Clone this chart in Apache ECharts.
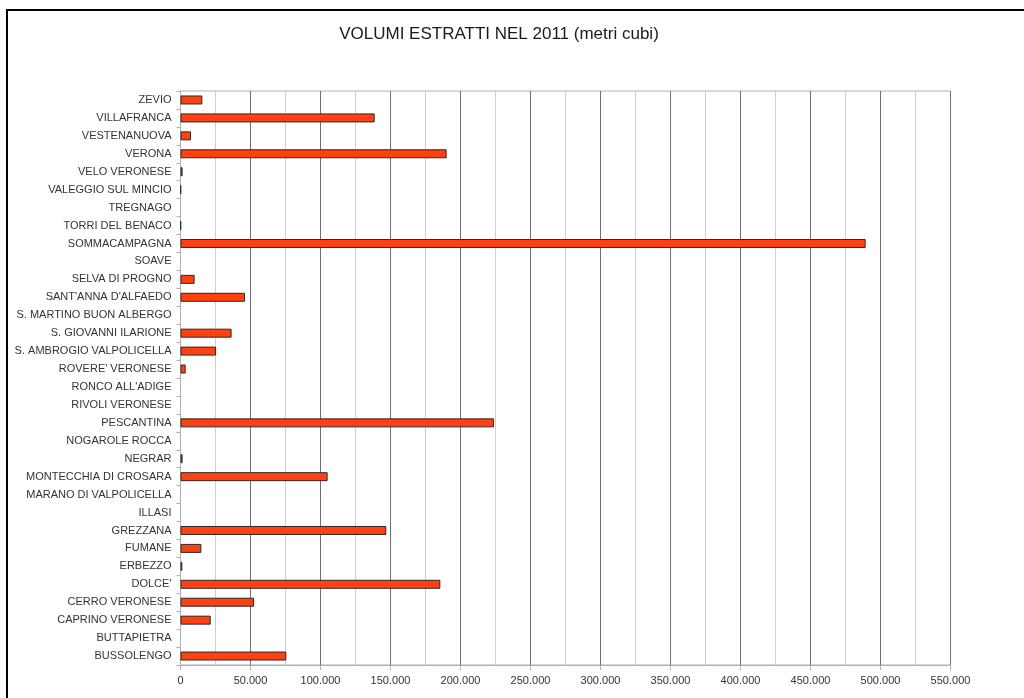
<!DOCTYPE html>
<html>
<head>
<meta charset="utf-8">
<script src="https://cdn.jsdelivr.net/npm/echarts@6/dist/echarts.min.js"></script>
<style>
html,body{margin:0;padding:0;background:#fff;}
#chart{width:1024px;height:698px;}
</style>
</head>
<body>
<div id="chart"></div>
<script>
// Categories listed bottom-to-top
var categories = [
  "BUSSOLENGO","BUTTAPIETRA","CAPRINO VERONESE","CERRO VERONESE","DOLCE'","ERBEZZO",
  "FUMANE","GREZZANA","ILLASI","MARANO DI VALPOLICELLA","MONTECCHIA DI CROSARA","NEGRAR",
  "NOGAROLE ROCCA","PESCANTINA","RIVOLI VERONESE","RONCO ALL'ADIGE","ROVERE' VERONESE",
  "S. AMBROGIO VALPOLICELLA","S. GIOVANNI ILARIONE","S. MARTINO BUON ALBERGO",
  "SANT'ANNA D'ALFAEDO","SELVA DI PROGNO","SOAVE","SOMMACAMPAGNA","TORRI DEL BENACO",
  "TREGNAGO","VALEGGIO SUL MINCIO","VELO VERONESE","VERONA","VESTENANUOVA","VILLAFRANCA","ZEVIO"
];
var volumes = [
  75600, 0, 21600, 52500, 185600, 1300,
  14900, 147000, 0, 0, 105100, 1500,
  0, 223900, 0, 0, 3700,
  25400, 36500, 0,
  46100, 10100, 0, 489400, 300,
  0, 300, 1500, 190100, 7500, 138700, 15600
];
var xTicks = [0,50000,100000,150000,200000,250000,300000,350000,400000,450000,500000,550000];

function fmt(v){
  return String(v).replace(/\B(?=(\d{3})+(?!\d))/g, '.');
}

var barData = volumes.map(function(v){
  return v === 0 ? {value:v, itemStyle:{borderWidth:0, opacity:0}} : v;
});

var chart = echarts.init(document.getElementById('chart'), null, {renderer:'canvas'});
chart.setOption({
  animation:false,
  backgroundColor:'#fff',
  title:{
    text:'VOLUMI ESTRATTI NEL 2011 (metri cubi)',
    left:494, top:21, textAlign:'center',
    textStyle:{fontFamily:'Liberation Sans', fontSize:17, fontWeight:'normal', color:'#1a1a1a'}
  },
  graphic:[{
    type:'rect', silent:true, z:100,
    shape:{x:7, y:10, width:1200, height:1000},
    style:{fill:null, stroke:'#000', lineWidth:2}
  }],
  grid:{left:180.5, right:73.5, top:91, bottom:33, containLabel:false,
        show:true, borderColor:'#b0b0b0', borderWidth:1},
  xAxis:{
    type:'value', min:xTicks[0], max:xTicks[xTicks.length-1], interval:50000,
    axisLine:{show:true, lineStyle:{color:'#b0b0b0'}},
    axisTick:{show:true, length:5, lineStyle:{color:'#b0b0b0'}},
    axisLabel:{fontFamily:'Liberation Sans', fontSize:11, color:'#333', margin:10,
               formatter:function(v){return fmt(v);}},
    splitLine:{show:true, lineStyle:{color:'#707070', width:1}},
    minorTick:{show:false, splitNumber:2},
    minorSplitLine:{show:true, lineStyle:{color:'#cfcfcf', width:1}}
  },
  yAxis:{
    type:'category', data:categories,
    axisLine:{show:true, lineStyle:{color:'#b0b0b0'}},
    axisTick:{show:true, length:4, lineStyle:{color:'#b0b0b0'}},
    axisLabel:{fontFamily:'Liberation Sans', fontSize:11, color:'#333', margin:9},
    splitLine:{show:false}
  },
  series:[{
    type:'bar', data:barData, barWidth:9,
    itemStyle:{color:'#ff4010', borderColor:'#2a2a2a', borderWidth:1}
  }]
});
</script>
</body>
</html>
